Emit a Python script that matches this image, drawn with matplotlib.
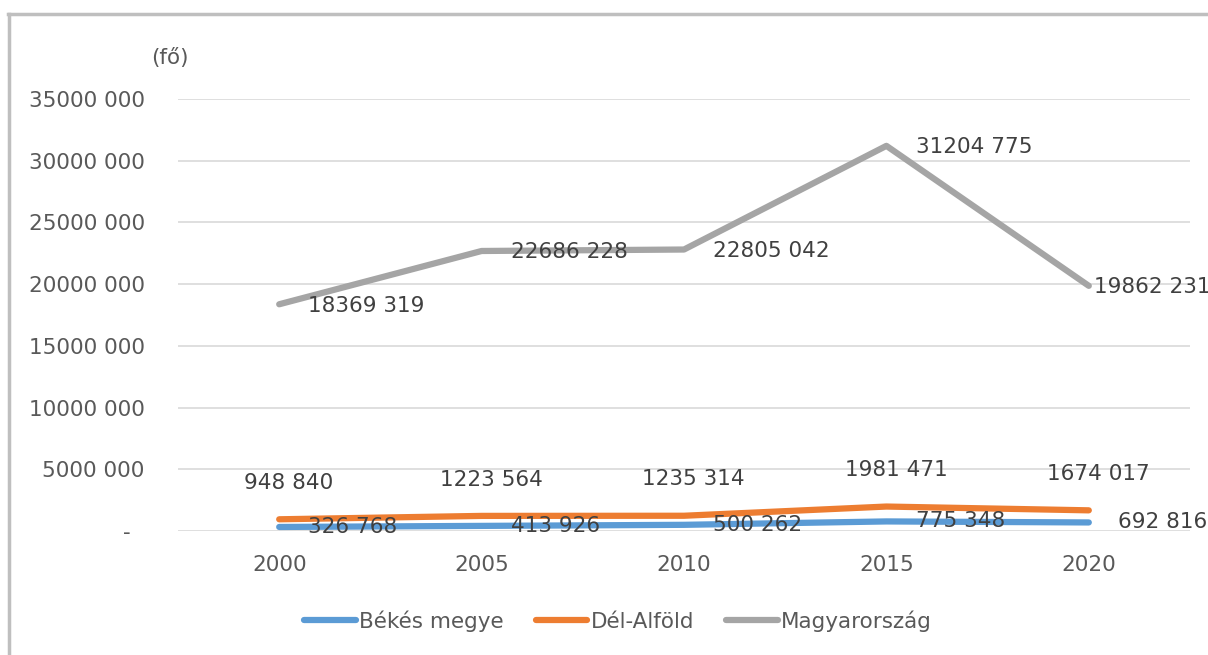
import numpy as np
import matplotlib.pyplot as plt
from matplotlib.lines import Line2D

years = ['2000', '2005', '2010', '2015', '2020']
bekes = [326768, 413926, 500262, 775348, 692816]
del_alfold = [948840, 1223564, 1235314, 1981471, 1674017]
magyar = [18369319, 22686228, 22805042, 31204775, 19862231]
yticks = [0, 5000000, 10000000, 15000000, 20000000, 25000000, 30000000, 35000000]


def fmt(v):
    v = int(v)
    if v == 0:
        return '-  '
    return '{} {:03d}'.format(v // 1000, v % 1000)


plt.rcParams['font.family'] = 'DejaVu Sans'
fs = 15.5
fig = plt.figure(figsize=(12.08, 6.55), dpi=100)
ax = fig.add_axes([178 / 1208, 1 - 531 / 655, 1012 / 1208, 432 / 655])

x = np.arange(len(years))
c_blue = '#5B9BD5'
c_orange = '#ED7D31'
c_gray = '#A5A5A5'
txt = '#404040'

ax.plot(x, bekes, color=c_blue, lw=4.5, solid_capstyle='round', zorder=3)
ax.plot(x, del_alfold, color=c_orange, lw=4.5, solid_capstyle='round', zorder=3)
ax.plot(x, magyar, color=c_gray, lw=4.5, solid_capstyle='round', zorder=3)

# last label of the national series is pushed left to stay inside the chart
mag_dx = [21, 21, 21, 21, 4]
for i in range(len(years)):
    ax.annotate(fmt(bekes[i]), (x[i], bekes[i]), xytext=(21, 0), textcoords='offset points',
                ha='left', va='center', fontsize=fs, color=txt, annotation_clip=False)
    ax.annotate(fmt(del_alfold[i]), (x[i], del_alfold[i]), xytext=(7, 19), textcoords='offset points',
                ha='center', va='bottom', fontsize=fs, color=txt, annotation_clip=False)
    ax.annotate(fmt(magyar[i]), (x[i], magyar[i]), xytext=(mag_dx[i], -1), textcoords='offset points',
                ha='left', va='center', fontsize=fs, color=txt, annotation_clip=False)

ax.set_xlim(-0.5, len(years) - 0.5)
ax.set_ylim(0, 35000000)
ax.set_xticks(x)
ax.set_xticklabels(years)
ax.set_yticks(yticks)
ax.set_yticklabels([fmt(v) for v in yticks])
ax.tick_params(axis='both', length=0, labelsize=fs, labelcolor='#595959')
ax.tick_params(axis='y', pad=24)
ax.tick_params(axis='x', pad=17)
ax.grid(axis='y', color='#D9D9D9', lw=1.2)
ax.set_axisbelow(True)
for s in ax.spines.values():
    s.set_visible(False)

fig.text(170 / 1208, 1 - 58 / 655, '(fő)', ha='center', va='center', fontsize=fs, color='#595959')

handles = [Line2D([], [], color=c_blue, lw=4.5, solid_capstyle='round'),
           Line2D([], [], color=c_orange, lw=4.5, solid_capstyle='round'),
           Line2D([], [], color=c_gray, lw=4.5, solid_capstyle='round')]
fig.legend(handles, ['Békés megye', 'Dél-Alföld', 'Magyarország'], loc='center',
           bbox_to_anchor=(618 / 1208, 1 - 621 / 655), ncol=3, frameon=False,
           fontsize=fs, labelcolor='#595959', handlelength=2.4, handletextpad=0.15,
           columnspacing=1.5)

# chart frame (only left and top edges visible)
fig.add_artist(Line2D([9 / 1208, 9 / 1208], [0, 1 - 14 / 655], color='#BFBFBF', lw=2.5,
                      transform=fig.transFigure))
fig.add_artist(Line2D([8 / 1208, 1], [1 - 14 / 655, 1 - 14 / 655], color='#BFBFBF', lw=2.5,
                      transform=fig.transFigure))

fig.savefig('out.png', dpi=100)
